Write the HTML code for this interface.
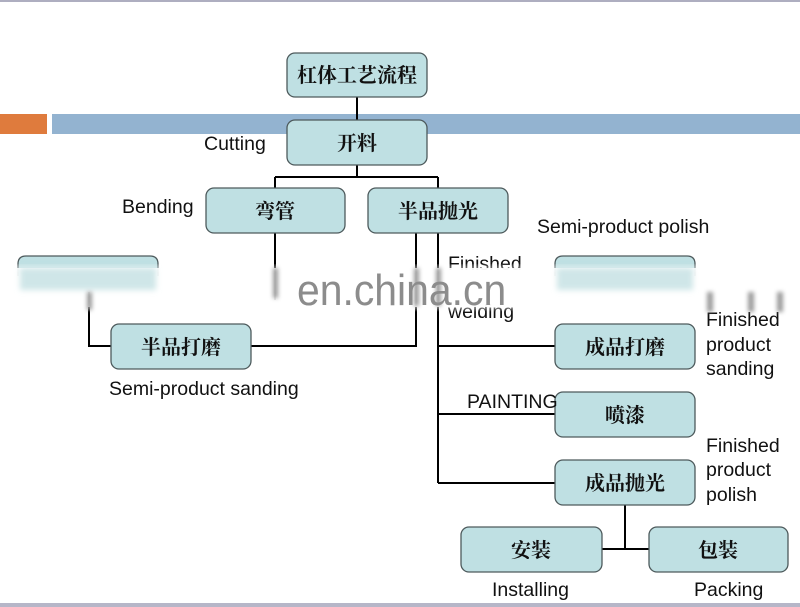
<!DOCTYPE html>
<html><head><meta charset="utf-8"><style>
html,body{margin:0;padding:0;background:#fff;}
svg{display:block;}
.en{font-family:"Liberation Sans",Arial,sans-serif;font-size:19.5px;fill:#111;}
.zh{font-family:"Liberation Serif","Noto Serif CJK SC","Noto Sans CJK SC",serif;font-size:20px;fill:#111;font-weight:700;}
</style></head><body>
<svg width="800" height="607" viewBox="0 0 800 607" xmlns="http://www.w3.org/2000/svg">
<defs>
<filter id="b4" x="-50%" y="-50%" width="200%" height="200%"><feGaussianBlur stdDeviation="3"/></filter>
<filter id="b2" x="-50%" y="-50%" width="200%" height="200%"><feGaussianBlur stdDeviation="2"/></filter>
</defs>
<rect x="0" y="0" width="800" height="607" fill="#fff"/>
<rect x="0" y="0" width="800" height="2" fill="#aeaec0"/>
<rect x="0" y="603" width="800" height="4" fill="#b6b6c8"/>
<rect x="0" y="114" width="47" height="20" fill="#df7b3d"/>
<rect x="52" y="114" width="748" height="20" fill="#93b3d0"/>

<g stroke="#000" stroke-width="2" fill="none">
<path d="M357 97 V120"/>
<path d="M357 165 V177 M275 177 H438 M275 177 V188 M438 177 V188"/>
<path d="M275 233 V300"/>
<path d="M416 233 V346 H251"/>
<path d="M438 233 V483 M438 346 H555 M438 414 H555 M438 483 H555"/>
<path d="M89 292 V346 H111"/>
<path d="M625 505 V549 M602 549 H649"/>
</g>

<g fill="#bfe0e3" stroke="#4d5a5c" stroke-width="1.3">
<rect x="287" y="53" width="140" height="44" rx="8"/>
<rect x="287" y="120" width="140" height="45" rx="8"/>
<rect x="206" y="188" width="139" height="45" rx="8"/>
<rect x="368" y="188" width="140" height="45" rx="8"/>
<rect x="111" y="324" width="140" height="45" rx="8"/>
<rect x="555" y="324" width="140" height="45" rx="8"/>
<rect x="555" y="392" width="140" height="45" rx="8"/>
<rect x="555" y="460" width="140" height="45" rx="8"/>
<rect x="461" y="527" width="141" height="45" rx="8"/>
<rect x="649" y="527" width="139" height="45" rx="8"/>
</g>
<!-- partially hidden boxes (open bottom) -->
<g fill="#bfe0e3">
<rect x="18" y="256" width="140" height="20" rx="8"/>
<rect x="555" y="256" width="140" height="20" rx="8"/>
</g>
<g fill="none" stroke="#4d5a5c" stroke-width="1.3">
<path d="M18 276 V264 Q18 256 26 256 H150 Q158 256 158 264 V276"/>
<path d="M555 276 V264 Q555 256 563 256 H687 Q695 256 695 264 V276"/>
</g>

<g class="zh" text-anchor="middle">
<text x="357" y="82">杠体工艺流程</text>
<text x="357" y="150">开料</text>
<text x="275" y="218">弯管</text>
<text x="438" y="218">半品抛光</text>
<text x="181" y="354">半品打磨</text>
<text x="625" y="354">成品打磨</text>
<text x="625" y="422">喷漆</text>
<text x="625" y="490">成品抛光</text>
<text x="531" y="557">安装</text>
<text x="718" y="557">包装</text>
</g>

<g class="en">
<text x="204" y="150">Cutting</text>
<text x="122" y="213">Bending</text>
<text x="537" y="233">Semi-product polish</text>
<text x="448" y="270">Finished</text>
<text x="448" y="318">welding</text>
<text x="109" y="395">Semi-product sanding</text>
<text x="706" y="326">Finished</text>
<text x="706" y="351">product</text>
<text x="706" y="375">sanding</text>
<text x="467" y="408">PAINTING</text>
<text x="706" y="452">Finished</text>
<text x="706" y="476">product</text>
<text x="706" y="501">polish</text>
<text x="492" y="596">Installing</text>
<text x="694" y="596">Packing</text>
</g>

<!-- watermark blur band -->
<rect x="0" y="268" width="800" height="39" fill="#fff" opacity="0.93"/>
<rect x="0" y="266" width="800" height="4" fill="#fff" opacity="0.5" filter="url(#b2)"/>
<rect x="0" y="304" width="800" height="5" fill="#fff" opacity="0.6" filter="url(#b2)"/>
<g filter="url(#b4)">
<rect x="20" y="268" width="136" height="22" fill="#cfe6e8"/>
<rect x="557" y="268" width="136" height="22" fill="#cfe6e8"/>
</g>
<g fill="#888" filter="url(#b2)" opacity="0.85">
<rect x="87" y="292" width="5" height="18"/>
<rect x="273" y="268" width="5" height="30"/>
<rect x="414" y="268" width="5" height="38"/>
<rect x="436" y="268" width="5" height="38"/>
<rect x="707" y="292" width="6" height="20"/>
<rect x="748" y="292" width="6" height="20"/>
<rect x="777" y="292" width="6" height="20"/>
</g>
<text x="297" y="305" font-family="Liberation Sans, Arial, sans-serif" font-size="44" fill="#8c8c8c" transform="translate(297 0) scale(0.93 1) translate(-297 0)">en.china.cn</text>
</svg>
</body></html>
